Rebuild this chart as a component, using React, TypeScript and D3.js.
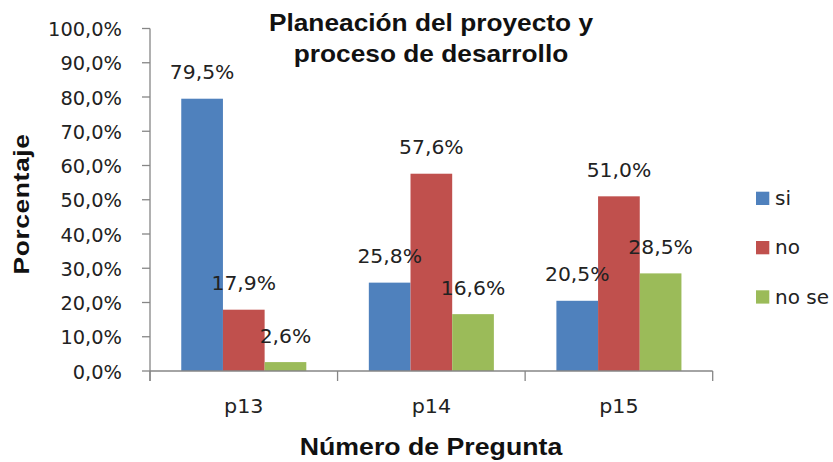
import React from "react";
import * as d3 from "d3";

// Survey answers per question, in percent
const categories = ["p13", "p14", "p15"];
const seriesNames = ["si", "no", "no se"];
const siValues = [79.5, 25.8, 20.5];
const noValues = [17.9, 57.6, 51.0];
const noSeValues = [2.6, 16.6, 28.5];
const seriesColors = ["#4F81BD", "#C0504D", "#9BBB59"];

const titleLines = ["Planeación del proyecto y", "proceso de desarrollo"];
const xTitle = "Número de Pregunta";
const yTitle = "Porcentaje";

const W = 833;
const H = 462;
const plot = { left: 150, right: 712.7, top: 28.5, bottom: 371 };

const fmt = (v: number) => v.toFixed(1).replace(".", ",") + "%";

const labelFont = "'DejaVu Sans', Verdana, sans-serif";
const titleFont = "'Liberation Sans', Arial, sans-serif";
const axisColor = "#868686";
const textColor = "#222";

export default function App() {
  const seriesValues = [siValues, noValues, noSeValues];

  const x = d3
    .scaleBand<string>()
    .domain(categories)
    .range([plot.left, plot.right])
    .paddingInner(0)
    .paddingOuter(0);

  // Excel-style clusters: 150% gap width between groups
  const xs = d3
    .scaleBand<string>()
    .domain(seriesNames)
    .range([0, x.bandwidth()])
    .paddingInner(0)
    .paddingOuter(0.75);

  const y = d3.scaleLinear().domain([0, 100]).range([plot.bottom, plot.top]);
  const yTicks = y.ticks(10);

  const bars: { key: string; cx: number; x: number; w: number; y: number; h: number; v: number; color: string }[] = [];
  categories.forEach((cat, ci) => {
    seriesNames.forEach((s, si) => {
      const v = seriesValues[si][ci];
      const bx = (x(cat) ?? 0) + (xs(s) ?? 0);
      bars.push({
        key: cat + s,
        x: bx,
        w: xs.bandwidth(),
        cx: bx + xs.bandwidth() / 2,
        y: y(v),
        h: y(0) - y(v),
        v,
        color: seriesColors[si],
      });
    });
  });

  const catTickXs = [...categories.map((c) => x(c) ?? 0), plot.right];

  return (
    <svg
      width={W}
      height={H}
      viewBox={`0 0 ${W} ${H}`}
      style={{ position: "absolute", left: 0, top: 0, background: "#fff" }}
    >
      <rect width={W} height={H} fill="#fff" />

      {/* Title */}
      {titleLines.map((line, i) => (
        <text
          key={line}
          transform={`translate(431, ${30.7 + i * 31}) scale(1.095, 1)`}
          textAnchor="middle"
          fontFamily={titleFont}
          fontWeight="bold"
          fontSize={24}
          fill="#111"
        >
          {line}
        </text>
      ))}

      {/* Bars */}
      {bars.map((b) => (
        <rect key={b.key} x={b.x} y={b.y} width={b.w} height={b.h} fill={b.color} />
      ))}

      {/* Y axis */}
      <line x1={plot.left} x2={plot.left} y1={plot.top} y2={plot.bottom + 10} stroke={axisColor} strokeWidth={1.3} />
      {yTicks.map((t) => (
        <g key={t}>
          <line x1={plot.left - 8} x2={plot.left} y1={y(t)} y2={y(t)} stroke={axisColor} strokeWidth={1.3} />
          <text
            transform={`translate(122, ${y(t) + 7.5}) scale(1.02, 1)`}
            textAnchor="end"
            fontFamily={labelFont}
            fontSize={19}
            fill={textColor}
          >
            {fmt(t)}
          </text>
        </g>
      ))}

      {/* X axis */}
      <line x1={plot.left} x2={plot.right} y1={plot.bottom} y2={plot.bottom} stroke={axisColor} strokeWidth={1.3} />
      {catTickXs.map((tx, i) => (
        <line key={i} x1={tx} x2={tx} y1={plot.bottom} y2={plot.bottom + 10} stroke={axisColor} strokeWidth={1.3} />
      ))}
      {categories.map((c) => (
        <text
          key={c}
          transform={`translate(${(x(c) ?? 0) + x.bandwidth() / 2}, 413.3) scale(1.06, 1)`}
          textAnchor="middle"
          fontFamily={labelFont}
          fontSize={19.5}
          fill={textColor}
        >
          {c}
        </text>
      ))}

      {/* Value labels */}
      {bars.map((b) => (
        <text
          key={"l" + b.key}
          transform={`translate(${b.cx}, ${b.y - 19.5}) scale(1.07, 1)`}
          textAnchor="middle"
          fontFamily={labelFont}
          fontSize={19}
          fill={textColor}
        >
          {fmt(b.v)}
        </text>
      ))}

      {/* Axis titles */}
      <text
        transform={`translate(431, 455) scale(1.09, 1)`}
        textAnchor="middle"
        fontFamily={titleFont}
        fontWeight="bold"
        fontSize={24.5}
        fill="#111"
      >
        {xTitle}
      </text>
      <text
        transform={`translate(29, 204) rotate(-90) scale(1.2, 1)`}
        textAnchor="middle"
        fontFamily={titleFont}
        fontWeight="bold"
        fontSize={22}
        letterSpacing={0.5}
        fill="#111"
      >
        {yTitle}
      </text>

      {/* Legend */}
      {seriesNames.map((s, i) => (
        <g key={s} transform={`translate(756, ${191.7 + i * 49.3})`}>
          <rect width={13.3} height={13.3} fill={seriesColors[i]} />
          <text x={19} y={13.3} fontFamily={labelFont} fontSize={20} fill={textColor}>
            {s}
          </text>
        </g>
      ))}
    </svg>
  );
}
